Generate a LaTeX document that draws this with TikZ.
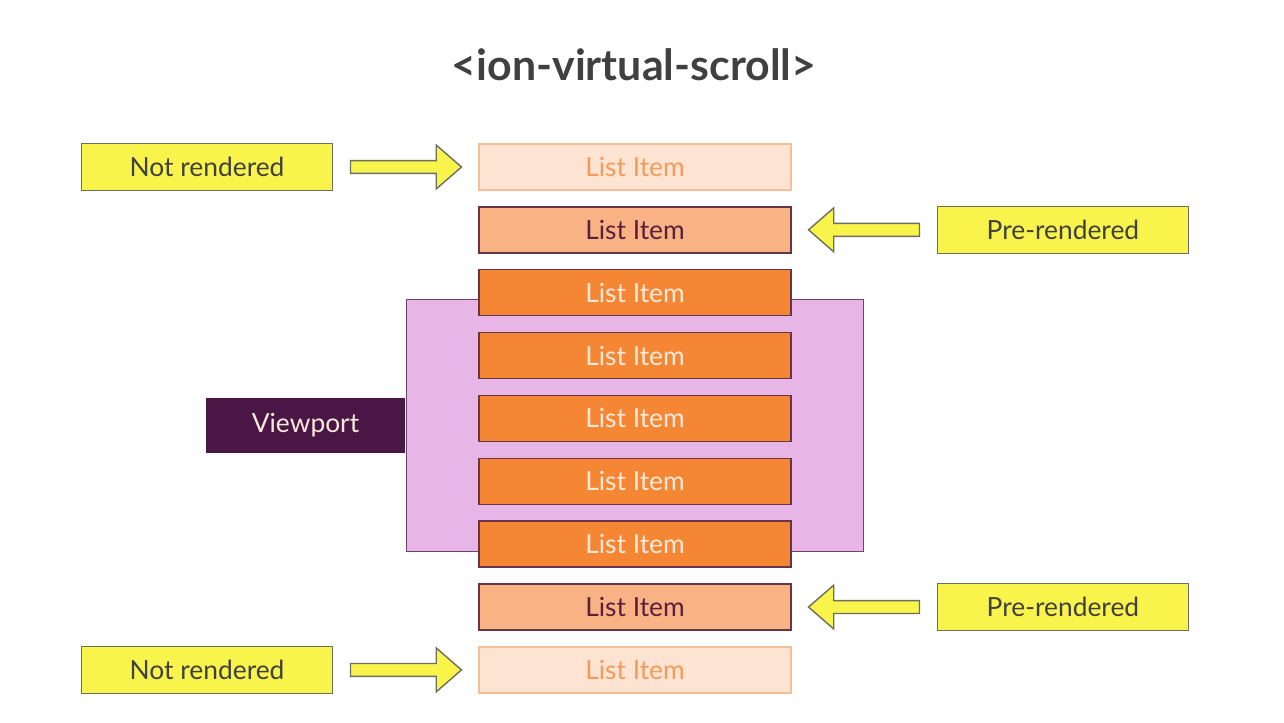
\documentclass[tikz,border=0pt]{standalone}
\usepackage{fontspec}
\setmainfont{Lato}
\usetikzlibrary{shapes,arrows,fit,calc,positioning,backgrounds}
\definecolor{hlyellow}{HTML}{F9F44C}
\definecolor{hledge}{HTML}{6E6E5E}
\definecolor{ghostfill}{HTML}{FDE3D2}
\definecolor{ghostedge}{HTML}{F6BE95}
\definecolor{ghosttext}{HTML}{F39B5C}
\definecolor{prefill}{HTML}{F8B283}
\definecolor{itemedge}{HTML}{6A3448}
\definecolor{pretext}{HTML}{5A1F3C}
\definecolor{livefill}{HTML}{F58634}
\definecolor{livetext}{HTML}{FCE9DA}
\definecolor{lavender}{HTML}{E7B6E7}
\definecolor{lavedge}{HTML}{70406E}
\definecolor{plum}{HTML}{4A1646}
\definecolor{titlegray}{HTML}{404040}
\tikzset{item/.style={draw=itemedge, line width=0.8pt, rectangle, node distance=1.2575cm, minimum width=6.24cm, minimum height=0.92cm, font=\fontsize{15}{18}\selectfont}}
\tikzset{ghost/.style={item, draw=ghostedge, fill=ghostfill, text=ghosttext}}
\tikzset{pre/.style={item, fill=prefill, text=pretext}}
\tikzset{live/.style={item, fill=livefill, text=livetext}}
\tikzset{tag/.style={draw=hledge, line width=0.8pt, fill=hlyellow, rectangle, node distance=8.56cm, minimum width=5.02cm, minimum height=0.94cm, text=black!75, font=\fontsize{15}{18}\selectfont}}
\tikzset{pointer/.style={draw=hledge, line width=0.8pt, fill=hlyellow, single arrow, single arrow head extend=0.31cm, single arrow head indent=0pt, single arrow tip angle=82, minimum height=2.22cm, inner xsep=0pt, inner ysep=0.115cm}}

\begin{document}
\begin{tikzpicture}[x=0.02cm, y=-0.02cm]
\useasboundingbox (0,0) rectangle (1284,723);

\node [text=titlegray, font=\bfseries\fontsize{24.4}{28}\selectfont] (title) at (634,65) {<ion-virtual-scroll>};

%LIST ITEMS
\node [ghost] (li1) at (635,167) {List Item};
\node [pre, below of=li1] (li2) {List Item};
\node [live, below of=li2] (li3) {List Item};
\node [live, below of=li3] (li4) {List Item};
\node [live, below of=li4] (li5) {List Item};
\node [live, below of=li5] (li6) {List Item};
\node [live, below of=li6] (li7) {List Item};
\node [pre, below of=li7] (li8) {List Item};
\node [ghost, below of=li8] (li9) {List Item};

%VIEWPORT
\begin{scope}[on background layer]
\node [draw=lavedge, line width=0.8pt, fill=lavender, fit=(li3.center) (li7.center), inner xsep=4.57cm, inner ysep=0.01cm, yshift=-0.14cm] (viewport) {};
\end{scope}
\node [fill=plum, text=livetext, minimum width=4cm, minimum height=1.1cm, font=\fontsize{15}{18}\selectfont, left=0pt of viewport] (vplabel) {Viewport};

%TAGS
\node [tag, left of=li1] (nr1) {Not rendered};
\node [tag, right of=li2] (pr1) {Pre-rendered};
\node [tag, right of=li8] (pr2) {Pre-rendered};
\node [tag, left of=li9] (nr2) {Not rendered};

%POINTERS
\node [pointer, xshift=-0.07cm] (p1) at ($(nr1.east)!0.5!(li1.west)$) {};
\node [pointer, shape border rotate=180, xshift=0.07cm] (p2) at ($(pr1.west)!0.5!(li2.east)$) {};
\node [pointer, shape border rotate=180, xshift=0.07cm] (p3) at ($(pr2.west)!0.5!(li8.east)$) {};
\node [pointer, xshift=-0.07cm] (p4) at ($(nr2.east)!0.5!(li9.west)$) {};

\end{tikzpicture}
\end{document}
